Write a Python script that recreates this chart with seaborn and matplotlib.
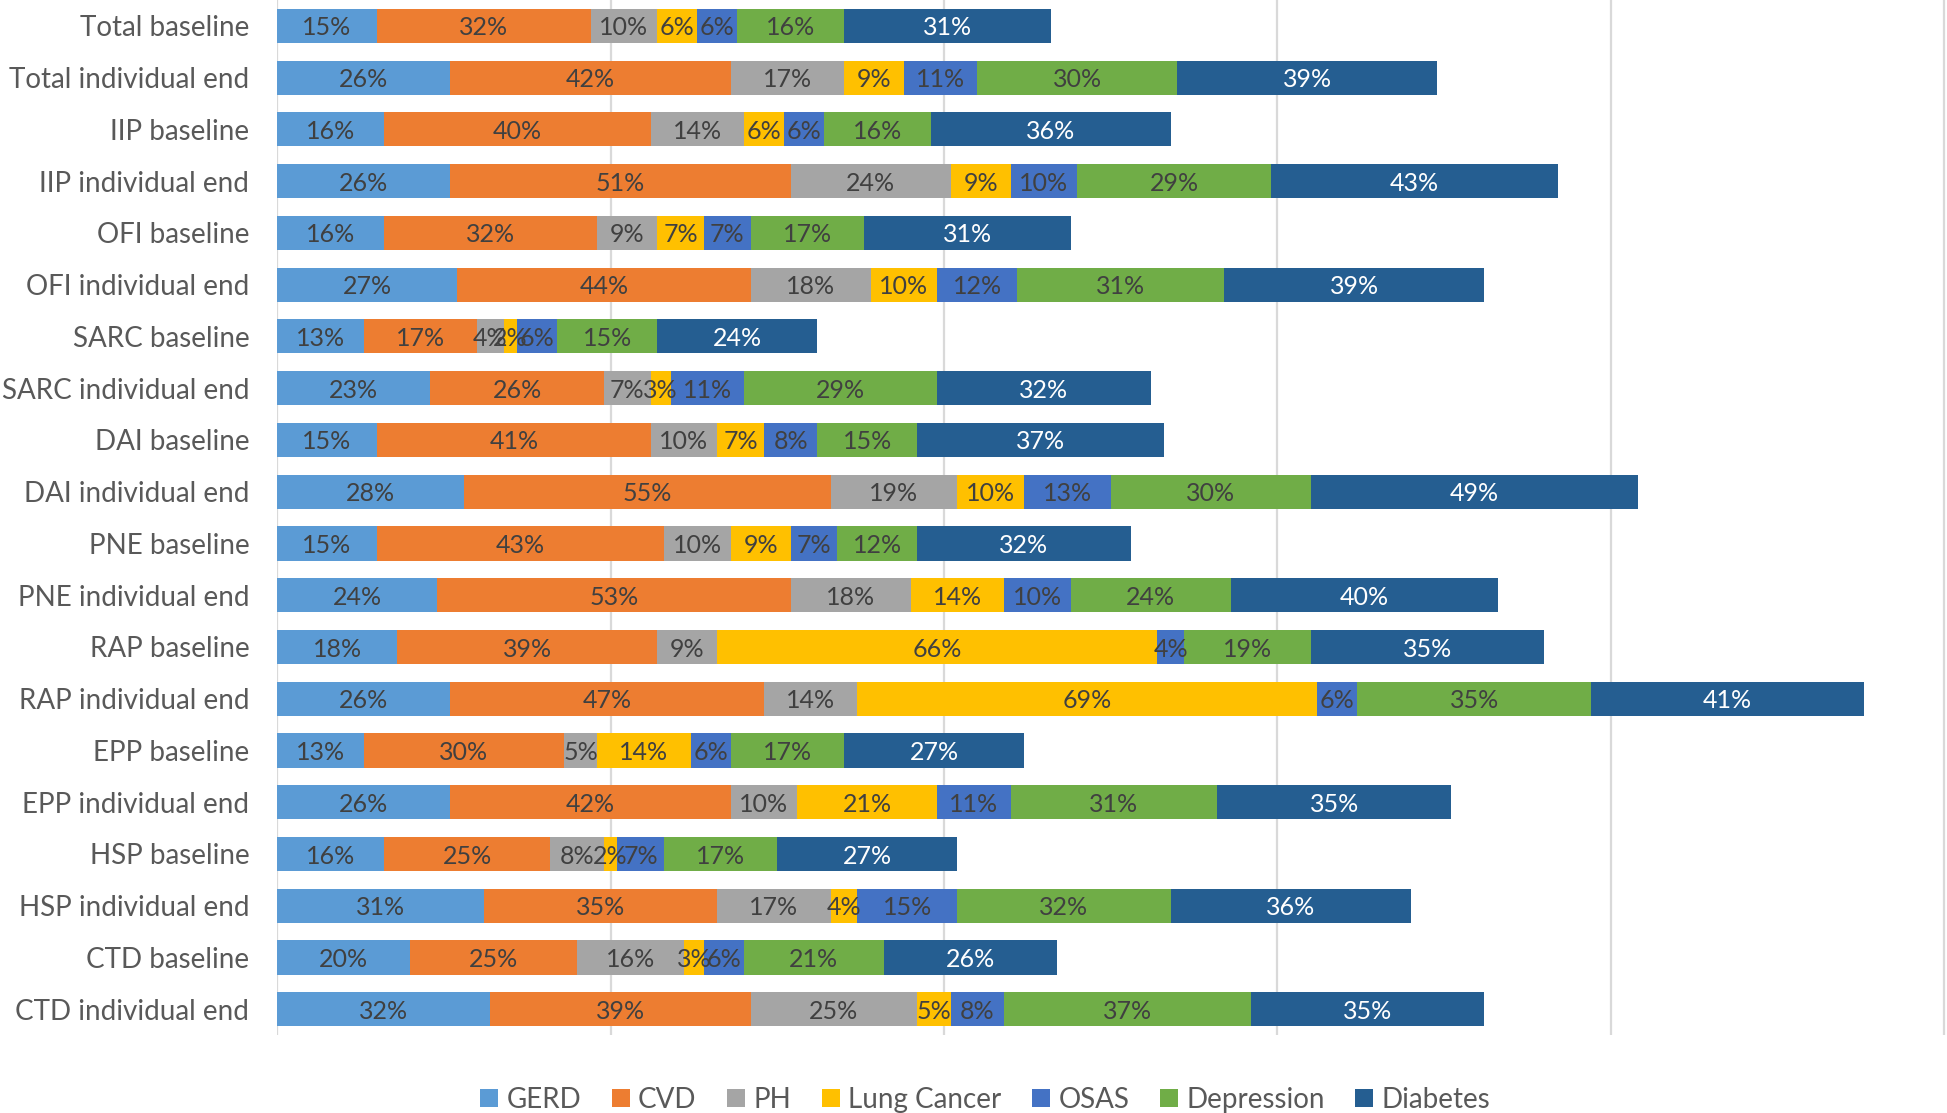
import numpy as np
import pandas as pd
import matplotlib
matplotlib.use("Agg")
import matplotlib.pyplot as plt
import seaborn as sns
from matplotlib.patches import Patch

categories = [
    "Total baseline", "Total individual end",
    "IIP baseline", "IIP individual end",
    "OFI baseline", "OFI individual end",
    "SARC baseline", "SARC individual end",
    "DAI baseline", "DAI individual end",
    "PNE baseline", "PNE individual end",
    "RAP baseline", "RAP individual end",
    "EPP baseline", "EPP individual end",
    "HSP baseline", "HSP individual end",
    "CTD baseline", "CTD individual end",
]
series_names = ["GERD", "CVD", "PH", "Lung Cancer", "OSAS", "Depression", "Diabetes"]

gerd        = [15, 26, 16, 26, 16, 27, 13, 23, 15, 28, 15, 24, 18, 26, 13, 26, 16, 31, 20, 32]
cvd         = [32, 42, 40, 51, 32, 44, 17, 26, 41, 55, 43, 53, 39, 47, 30, 42, 25, 35, 25, 39]
ph          = [10, 17, 14, 24, 9, 18, 4, 7, 10, 19, 10, 18, 9, 14, 5, 10, 8, 17, 16, 25]
lung_cancer = [6, 9, 6, 9, 7, 10, 2, 3, 7, 10, 9, 14, 66, 69, 14, 21, 2, 4, 3, 5]
osas        = [6, 11, 6, 10, 7, 12, 6, 11, 8, 13, 7, 10, 4, 6, 6, 11, 7, 15, 6, 8]
depression  = [16, 30, 16, 29, 17, 31, 15, 29, 15, 30, 12, 24, 19, 35, 17, 31, 17, 32, 21, 37]
diabetes    = [31, 39, 36, 43, 31, 39, 24, 32, 37, 49, 32, 40, 35, 41, 27, 35, 27, 36, 26, 35]

colors = ["#5B9BD5", "#ED7D31", "#A5A5A5", "#FFC000", "#4472C4", "#70AD47", "#255E91"]
label_colors = ["#404040"] * 6 + ["#FFFFFF"]

sns.set_theme(style="white")
plt.rcParams['font.family'] = ['Lato', 'DejaVu Sans']

df = pd.DataFrame({
    "GERD": gerd, "CVD": cvd, "PH": ph, "Lung Cancer": lung_cancer,
    "OSAS": osas, "Depression": depression, "Diabetes": diabetes,
}, index=categories)
cum = df.cumsum(axis=1)

fig = plt.figure(figsize=(19.47, 11.13), dpi=100)
ax = fig.add_axes([0.1423, 0.070, 0.8577, 0.930])

for name, color in reversed(list(zip(series_names, colors))):
    d = pd.DataFrame({"category": categories, "value": cum[name].values})
    sns.barplot(data=d, x="value", y="category", orient="h", color=color,
                saturation=1, width=0.66, linewidth=0, edgecolor="none", ax=ax)

for j, name in enumerate(series_names):
    vals = df[name].values
    centers = cum[name].values - vals / 2.0
    for i, (v, c) in enumerate(zip(vals, centers)):
        ax.annotate(f"{v:.0f}%", xy=(c, i), xytext=(0, -1.5), textcoords="offset points",
                    ha="center", va="center", fontsize=18, color=label_colors[j])

ax.set_xlim(0, 250.4)
ax.set_ylim(19.5, -0.5)
ax.set_xticks([0, 50, 100, 150, 200, 250])
ax.set_xticklabels([])
ax.xaxis.grid(True, color="#D9D9D9", linewidth=1.6)
ax.yaxis.grid(False)
ax.set_axisbelow(True)
for s in ax.spines.values():
    s.set_visible(False)
ax.set_xlabel("")
ax.set_ylabel("")
ax.tick_params(axis="y", length=0, pad=20, labelsize=20, labelcolor="#595959")
ax.tick_params(axis="x", length=0)

handles = [Patch(facecolor=c, edgecolor="none") for c in colors]
fig.legend(handles, series_names, loc="center", bbox_to_anchor=(0.506, 0.012),
           ncol=7, frameon=False, fontsize=20, labelcolor="#595959",
           handlelength=0.65, handleheight=0.65, handletextpad=0.3,
           columnspacing=1.1, borderpad=0, borderaxespad=0)

fig.savefig("out.png", dpi=100)
